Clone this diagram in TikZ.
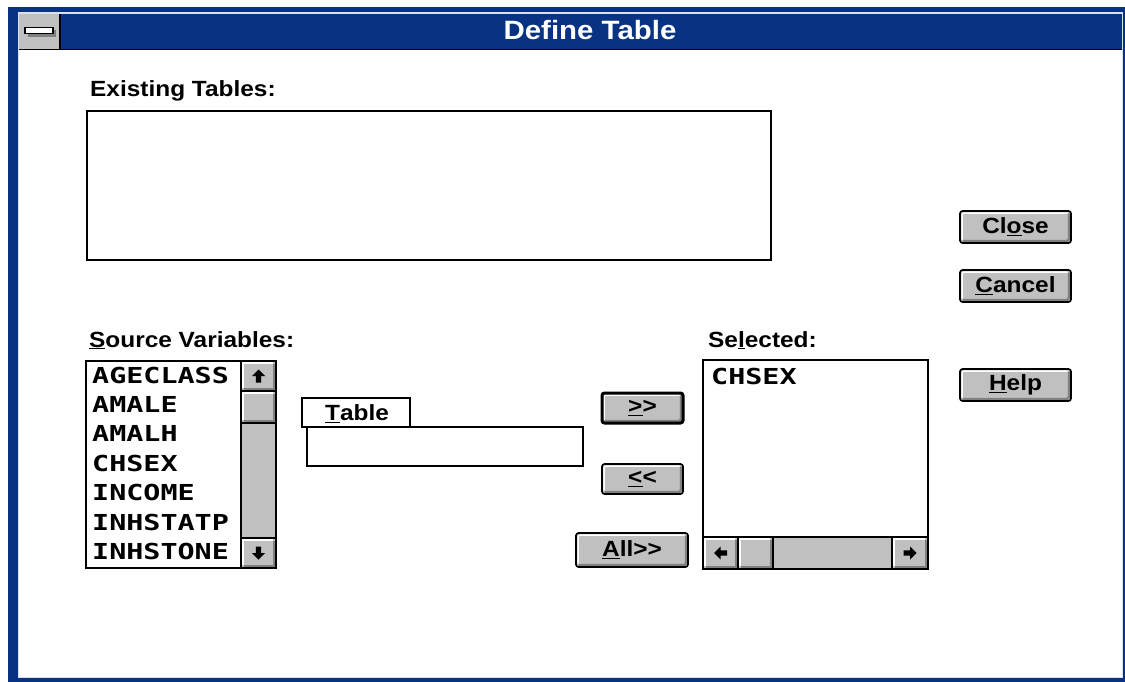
\documentclass[tikz,border=0pt]{standalone}
\usepackage{fontspec}
\setmainfont{Liberation Sans}
\newfontfamily\uifont[FakeStretch=1.11]{Liberation Sans}
\newfontfamily\listfont[FakeStretch=1.29]{DejaVu Sans Mono}
\usetikzlibrary{positioning,calc}
\definecolor{winblue}{RGB}{8,50,130}
\definecolor{btngray}{RGB}{192,192,192}
\definecolor{btnshade}{RGB}{128,128,128}

\tikzset{
  panel/.style={draw=black, line width=1.6pt, fill=white, inner sep=0pt, outer sep=0pt, anchor=north west},
  track/.style={draw=black, line width=1.6pt, fill=btngray, inner sep=0pt, outer sep=0pt, anchor=north west},
  bevel/.style={path picture={
      \draw[btnshade, line width=2.5pt]
        ([shift={(2.5pt,2pt)}]path picture bounding box.south west) --
        ([shift={(-2pt,2pt)}]path picture bounding box.south east) --
        ([shift={(-2pt,-2.5pt)}]path picture bounding box.north east);
      \draw[white, line width=1.5pt]
        ([shift={(2pt,3.5pt)}]path picture bounding box.south west) |-
        ([shift={(-3.5pt,-2pt)}]path picture bounding box.north east);}},
  sbbtn/.style={track, bevel},
  pushbtn/.style={draw=black, line width=1.6pt, fill=btngray, rounded corners=2.5pt,
    inner sep=0pt, outer sep=0pt, anchor=north west, bevel,
    font=\uifont\bfseries\fontsize{22}{24}\selectfont},
  deflt/.style={pushbtn, line width=3pt},
  label/.style={anchor=base west, inner sep=0pt, font=\uifont\bfseries\fontsize{22}{24}\selectfont},
  item/.style={anchor=base west, inner sep=0pt, font=\listfont\bfseries\fontsize{22}{24}\selectfont},
  arrowglyph/.pic={\fill[black] (0,-6.5) -- (6.5,0) -- (2.7,0) -- (2.7,6.5) -- (-2.7,6.5) -- (-2.7,0) -- (-6.5,0) -- cycle;}
}

\begin{document}
\begin{tikzpicture}[x=1pt, y=-1pt]
  \useasboundingbox (0,0) rectangle (1125,682);

  % window frame and title bar
  \fill[white] (0,0) rectangle (1125,682);
  \fill[winblue] (8,7) rectangle (1125,682);
  \fill[white!85!winblue] (18,12) rectangle (1123,678);
  \fill[winblue] (19,14) rectangle (1122,49);
  \fill[white] (19,50) rectangle (1122,677);
  \draw[black, line width=1.5pt] (19,49.5) -- (1122,49.5);
  \node[anchor=base, inner sep=0pt, text=white, font=\uifont\bfseries\fontsize{26.5}{28}\selectfont] (title) at (590,40) {Define Table};

  % system menu box
  \node[track, draw=none, minimum width=41pt, minimum height=35pt] (sysmenu) at (19,14) {};
  \draw[black, line width=1.5pt] (sysmenu.north east) -- (sysmenu.south east);
  \fill[btnshade] ($(sysmenu.center)+(-12,-1)$) rectangle ($(sysmenu.center)+(16,6)$);
  \node[draw=black, fill=white, line width=1.2pt, inner sep=0pt, minimum width=28pt, minimum height=6pt] (sysbar) at ($(sysmenu.center)+(-0.5,-1)$) {};

  % existing tables
  \node[label] (existlbl) at (90,97) {Existing Tables:};
  \node[panel, minimum width=684pt, minimum height=149pt] (existlist) at (87,111) {};

  % command buttons
  \node[pushbtn, minimum width=111pt, minimum height=32pt] (close) at (960,211) {Cl\underline{o}se};
  \node[pushbtn, minimum width=111pt, minimum height=32pt] (cancel) at (960,270) {\underline{C}ancel};
  \node[pushbtn, minimum width=111pt, minimum height=32pt] (help) at (960,369) {\underline{H}elp};

  % source variables
  \node[label] (srclbl) at (89,347) {\underline{S}ource Variables:};
  \node[panel, minimum width=190pt, minimum height=207pt] (srclist) at (86,361) {};
  \foreach \v [count=\i from 0] in {AGECLASS,AMALE,AMALH,CHSEX,INCOME,INHSTATP,INHSTONE}
    \node[item] (src\i) at ({92},{383+29.4*\i}) {\v};
  \node[track, minimum width=35pt, minimum height=207pt] (srcbar) at (241,361) {};
  \node[sbbtn, minimum width=35pt, minimum height=30pt] (srcup) at (241,361) {};
  \node[sbbtn, minimum width=35pt, minimum height=32pt] (srcthumb) at (241,391) {};
  \node[sbbtn, minimum width=35pt, minimum height=30pt] (srcdown) at (241,538) {};
  \pic at (srcup.center) {arrowglyph};
  \pic[rotate=180] at (srcdown.center) {arrowglyph};

  % table name
  \node[panel, minimum width=276pt, minimum height=39pt] (tablebox) at (307,427) {};
  \node[panel, minimum width=108pt, minimum height=29pt, anchor=north west] (tablelbl) at (302,398) {};
  \node[label, anchor=base] (tabletext) at ($(tablelbl.center)+(1,8)$) {\underline{T}able};

  % move buttons
  \node[deflt, minimum width=81pt, minimum height=30pt] (addbtn) at (602,393) {\underline{>}>};
  \node[pushbtn, minimum width=81pt, minimum height=30pt] (rembtn) at (602,464) {\underline{<}<};
  \node[pushbtn, minimum width=112pt, minimum height=34pt] (allbtn) at (576,533) {\underline{A}ll>>};

  % selected variables
  \node[label] (sellbl) at (708,347) {Se\underline{l}ected:};
  \node[panel, minimum width=225pt, minimum height=209pt] (sellist) at (703,360) {};
  \node[item] (sel0) at (711,384) {CHSEX};
  \node[track, minimum width=225pt, minimum height=32pt] (selbar) at (703,537) {};
  \node[sbbtn, minimum width=35pt, minimum height=32pt] (selleft) at (703,537) {};
  \node[sbbtn, minimum width=35pt, minimum height=32pt] (selthumb) at (738,537) {};
  \node[sbbtn, minimum width=36pt, minimum height=32pt] (selright) at (892,537) {};
  \pic[rotate=90] at (selleft.center) {arrowglyph};
  \pic[rotate=-90] at (selright.center) {arrowglyph};
\end{tikzpicture}
\end{document}
